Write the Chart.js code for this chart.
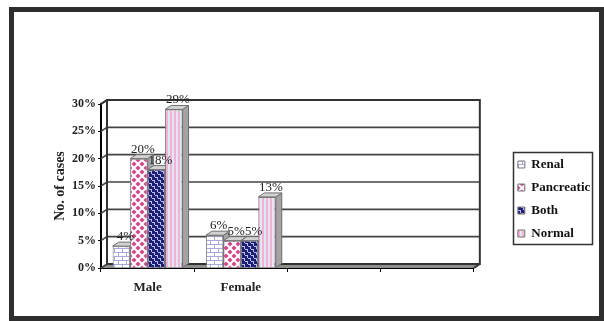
<!DOCTYPE html>
<html>
<head>
<meta charset="utf-8">
<script src="https://cdn.jsdelivr.net/npm/chart.js@4.4.0/dist/chart.umd.min.js"></script>
<style>
  html, body { margin: 0; padding: 0; background: #fff; }
  #frame {
    position: absolute; left: 9px; top: 7px;
    width: 585px; height: 304px;
    border: 5px solid #2e2e2e; background: #fff;
  }
  canvas { display: block; }
</style>
</head>
<body>
<div id="frame"><canvas id="c" width="585" height="304"></canvas></div>
<script>
// data
const categories = ['Male', 'Female', '', ''];
const renal = [4, 6, null, null];
const pancreatic = [20, 5, null, null];
const both = [18, 5, null, null];
const normal = [29, 13, null, null];
const yTicks = [0, 5, 10, 15, 20, 25, 30];

const serif = 'Liberation Serif';
const DX = 6, DY = 4; // 3d depth

// fill patterns
function makePattern(w, h, draw) {
  const cv = document.createElement('canvas');
  cv.width = w; cv.height = h;
  const g = cv.getContext('2d');
  draw(g);
  return g.createPattern(cv, 'repeat');
}

const brick = makePattern(8, 8, g => {
  g.fillStyle = '#fff'; g.fillRect(0, 0, 8, 8);
  g.fillStyle = '#a9a9e2';
  g.fillRect(0, 0, 8, 1); g.fillRect(0, 4, 8, 1);
  g.fillRect(0, 0, 1, 4); g.fillRect(4, 4, 1, 4);
});
const diamonds = makePattern(8, 8, g => {
  g.fillStyle = '#fff'; g.fillRect(0, 0, 8, 8);
  g.fillStyle = '#d4478f';
  const d = (cx, cy) => {
    g.beginPath(); g.moveTo(cx, cy - 2.6); g.lineTo(cx + 2.6, cy);
    g.lineTo(cx, cy + 2.6); g.lineTo(cx - 2.6, cy); g.closePath(); g.fill();
  };
  d(4, 4); d(0, 0); d(8, 0); d(0, 8); d(8, 8);
});
const weave = makePattern(6, 6, g => {
  g.fillStyle = '#1e1e78'; g.fillRect(0, 0, 6, 6);
  g.fillStyle = '#b8c0ec';
  g.fillRect(0, 0, 3, 1); g.fillRect(2, 1, 1, 2);
  g.fillRect(3, 3, 3, 1); g.fillRect(5, 4, 1, 2);
});
const stripes = makePattern(4, 4, g => {
  g.fillStyle = '#dfe6f8'; g.fillRect(0, 0, 4, 4);
  g.fillStyle = '#f2b2d0'; g.fillRect(0, 0, 2, 4);
});

const depth3d = {
  id: 'depth3d',
  beforeDatasetsDraw(chart) {
    const { ctx, chartArea: a, scales: { y } } = chart;
    ctx.save();
    // floor
    ctx.fillStyle = '#8e8e8e';
    ctx.beginPath();
    ctx.moveTo(a.left, a.bottom); ctx.lineTo(a.left + DX, a.bottom - DY);
    ctx.lineTo(a.right + DX, a.bottom - DY); ctx.lineTo(a.right, a.bottom);
    ctx.closePath(); ctx.fill();
    // back wall grid
    ctx.strokeStyle = '#444'; ctx.lineWidth = 1.6;
    yTicks.forEach(v => {
      const py = y.getPixelForValue(v);
      ctx.beginPath();
      ctx.moveTo(a.left, py); ctx.lineTo(a.left + DX, py - DY);
      ctx.lineTo(a.right + DX, py - DY);
      ctx.stroke();
    });
    ctx.strokeStyle = '#333'; ctx.lineWidth = 2;
    ctx.strokeRect(a.left + DX, a.top - DY, a.right - a.left, a.bottom - a.top);
    ctx.beginPath();
    ctx.moveTo(a.left, a.top); ctx.lineTo(a.left + DX, a.top - DY);
    ctx.moveTo(a.right, a.bottom); ctx.lineTo(a.right + DX, a.bottom - DY);
    ctx.stroke();
    // bar tops and sides
    chart.data.datasets.forEach((ds, i) => {
      chart.getDatasetMeta(i).data.forEach((bar, j) => {
        if (ds.data[j] == null) return;
        const { x, y: top, base, width } = bar.getProps(['x', 'y', 'base', 'width'], true);
        const L = x - width / 2, R = x + width / 2;
        ctx.lineWidth = 1; ctx.strokeStyle = '#6e6e6e';
        ctx.fillStyle = '#a3a3a3';
        ctx.beginPath();
        ctx.moveTo(R, top); ctx.lineTo(R + DX, top - DY);
        ctx.lineTo(R + DX, base - DY); ctx.lineTo(R, base);
        ctx.closePath(); ctx.fill(); ctx.stroke();
        ctx.fillStyle = '#d2d2d2';
        ctx.beginPath();
        ctx.moveTo(L, top); ctx.lineTo(L + DX, top - DY);
        ctx.lineTo(R + DX, top - DY); ctx.lineTo(R, top);
        ctx.closePath(); ctx.fill(); ctx.stroke();
      });
    });
    ctx.restore();
  },
  afterDatasetsDraw(chart) {
    const { ctx } = chart;
    ctx.save();
    ctx.font = '13px "' + serif + '"';
    ctx.fillStyle = '#222';
    ctx.textAlign = 'center';
    ctx.textBaseline = 'bottom';
    chart.data.datasets.forEach((ds, i) => {
      chart.getDatasetMeta(i).data.forEach((bar, j) => {
        if (ds.data[j] == null) return;
        const { x, y } = bar.getProps(['x', 'y'], true);
        ctx.fillText(ds.data[j] + '%', x + DX / 2 + 1, y - DY + 1);
      });
    });
    ctx.restore();
  },
  afterDraw(chart) {
    const boxes = chart.legend && chart.legend.legendHitBoxes;
    if (!boxes || !boxes.length) return;
    let x0 = Infinity, y0 = Infinity, x1 = -Infinity, y1 = -Infinity;
    boxes.forEach(b => {
      x0 = Math.min(x0, b.left); y0 = Math.min(y0, b.top);
      x1 = Math.max(x1, b.left + b.width); y1 = Math.max(y1, b.top + b.height);
    });
    const ctx = chart.ctx;
    ctx.save();
    ctx.strokeStyle = '#333'; ctx.lineWidth = 1.5;
    ctx.strokeRect(Math.round(x0 - 5) + 0.5, Math.round(y0 - 6) + 0.5, Math.round(x1 - x0 + 7), Math.round(y1 - y0 + 10));
    ctx.restore();
  }
};

const tickFont = { family: serif, size: 12, weight: 'bold' };
const labelFont = { family: serif, size: 13, weight: 'bold' };

new Chart(document.getElementById('c'), {
  type: 'bar',
  data: {
    labels: categories,
    datasets: [
      { label: 'Renal', data: renal, backgroundColor: brick },
      { label: 'Pancreatic', data: pancreatic, backgroundColor: diamonds },
      { label: 'Both', data: both, backgroundColor: weave },
      { label: 'Normal', data: normal, backgroundColor: stripes }
    ].map(d => Object.assign(d, { borderColor: '#777', borderWidth: 1, yAxisID: 'y' }))
  },
  options: {
    responsive: false,
    animation: false,
    categoryPercentage: 0.75,
    barPercentage: 1,
    layout: { padding: { left: 38, top: 92, right: 0, bottom: 22 } },
    plugins: {
      tooltip: { enabled: false },
      legend: {
        position: 'right',
        labels: {
          boxWidth: 7, boxHeight: 7, padding: 10,
          font: labelFont, color: '#111'
        }
      }
    },
    scales: {
      x: {
        offset: true,
        grid: { offset: true, drawOnChartArea: false, tickLength: 4, color: '#000' },
        border: { color: '#000', width: 2 },
        ticks: { font: labelFont, color: '#222', padding: 8 },
        afterFit: s => { s.height = 26; }
      },
      y: {
        min: 0, max: 30,
        grid: { drawOnChartArea: false, tickLength: 3, color: '#000' },
        border: { color: '#000', width: 2 },
        ticks: { stepSize: 5, padding: 2, font: tickFont, color: '#222', callback: v => v + '%' },
        title: { display: true, text: 'No. of cases', padding: 0, color: '#222',
                 font: { family: serif, size: 14, weight: 'bold' } },
        afterFit: s => { s.width = 49; }
      },
      y2: {
        position: 'right', display: true,
        grid: { display: false }, border: { display: false },
        ticks: { display: false },
        afterFit: s => { s.width = 34; }
      }
    }
  },
  plugins: [depth3d]
});
</script>
</body>
</html>
